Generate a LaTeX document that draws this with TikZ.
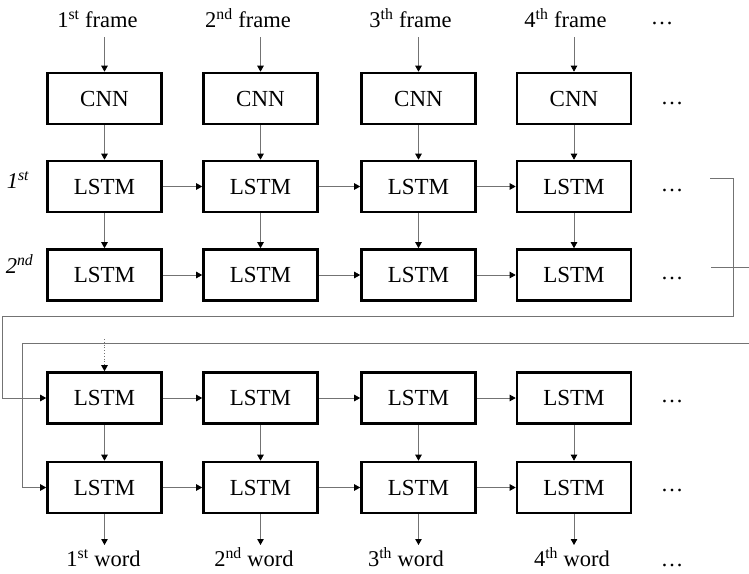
\documentclass[tikz,border=0pt]{standalone}
\usepackage{fontspec}
\setmainfont{Liberation Serif}
\usetikzlibrary{arrows.meta}
\definecolor{wire}{RGB}{115,115,115}
\begin{document}
\begin{tikzpicture}[x=1pt,y=-1pt,
  cell/.style={draw=black, line width=2.6pt, minimum width=114pt, minimum height=51pt,
               inner sep=0pt, font=\rmfamily\fontsize{23}{27}\selectfont},
  lbl/.style={anchor=base, inner sep=0pt, font=\rmfamily\fontsize{22.5}{27}\selectfont},
  wire/.style={draw=wire, line width=0.8pt},
  flow/.style={wire, -{Triangle[length=6pt,width=6.5pt,color=black]}},
]
\useasboundingbox (0,0) rectangle (749,573);

% columns: index / box centre / label centre (top) / label centre (bottom) / ordinal suffix
\foreach \i/\x/\tx/\bx/\ord in {1/104.5/97.5/103.5/st, 2/260.5/248/254/nd,
                                3/418.5/410.5/406/th, 4/574/565.5/572/th}{
  \node[lbl] (frame\i) at (\tx,27) {\i\textsuperscript{\ord} frame};
  \node[cell] (cnn\i) at (\x,98.5) {CNN};
  \node[cell] (la\i)  at (\x,186.5) {LSTM};
  \node[cell] (lb\i)  at (\x,275) {LSTM};
  \node[cell] (lc\i)  at (\x,398) {LSTM};
  \node[cell] (ld\i)  at (\x,487.5) {LSTM};
  \node[lbl] (word\i) at (\bx,566) {\i\textsuperscript{\ord} word};
  \coordinate (in\i) at (\x,37);
  \coordinate (out\i) at (\x,545);
  \draw[flow] (in\i) -- (cnn\i);
  \draw[flow] (cnn\i) -- (la\i);
  \draw[flow] (la\i) -- (lb\i);
  \draw[flow] (lc\i) -- (ld\i);
  \draw[flow] (ld\i) -- (out\i);
}

% recurrent links along each layer
\foreach \i/\j in {1/2,2/3,3/4}{
  \draw[flow] (la\i) -- (la\j);
  \draw[flow] (lb\i) -- (lb\j);
  \draw[flow] (lc\i) -- (lc\j);
  \draw[flow] (ld\i) -- (ld\j);
}

% layer labels
\node[lbl, font=\rmfamily\fontsize{22.5}{27}\selectfont\itshape] (layer1) at (18,188) {1\textsuperscript{st}};
\node[lbl, font=\rmfamily\fontsize{22.5}{27}\selectfont\itshape] (layer2) at (19.5,273) {2\textsuperscript{nd}};

% continuation dots
\node[lbl] (dots0) at (662,24) {…};
\node[lbl] (dots1) at (672,104) {…};
\node[lbl] (dots2) at (672,191) {…};
\node[lbl] (dots3) at (672,279) {…};
\node[lbl] (dots4) at (672,402) {…};
\node[lbl] (dots5) at (672,491) {…};
\node[lbl] (dots6) at (672,566) {…};

% state hand-over from the encoder to the decoder
\coordinate (ta) at (710,178);
\coordinate (tb) at (711,267);
\coordinate (te) at (749,267);
\coordinate (ua) at (749,343);
\coordinate (din) at (104.5,339);
\draw[wire] (ta) -- (733,178) -- (733,316) -- (2,316) -- (2,398);
\draw[flow] (2,398) -- (lc1.west);
\draw[wire] (tb) -- (te);
\draw[wire] (ua) -- (22,343) -- (22,487.5);
\draw[flow] (22,487.5) -- (ld1.west);
\draw[flow, dotted] (din) -- (lc1);
\end{tikzpicture}
\end{document}
